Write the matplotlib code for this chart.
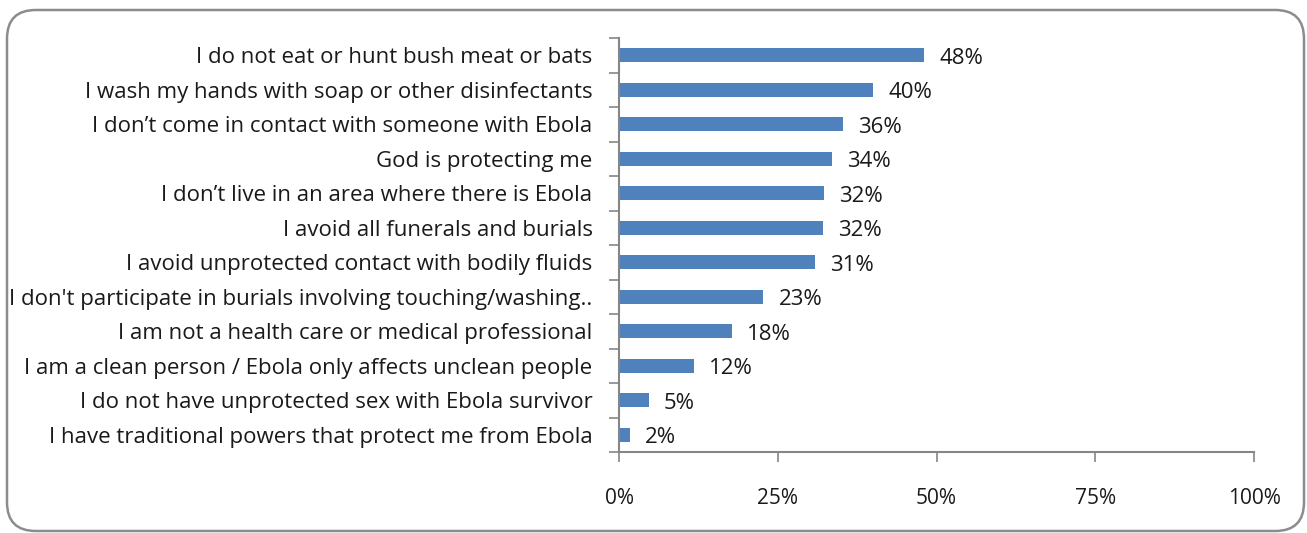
import matplotlib
matplotlib.use("Agg")
import matplotlib.pyplot as plt
from matplotlib.patches import FancyBboxPatch
from matplotlib.ticker import FixedLocator

plt.rcParams['font.family'] = ['Open Sans', 'DejaVu Sans']

categories = [
    "I do not eat or hunt bush meat or bats",
    "I wash my hands with soap or other disinfectants",
    "I don\u2019t come in contact with someone with Ebola",
    "God is protecting me",
    "I don\u2019t live in an area where there is Ebola",
    "I avoid all funerals and burials",
    "I avoid unprotected contact with bodily fluids",
    "I don't participate in burials involving touching/washing..",
    "I am not a health care or medical professional",
    "I am a clean person / Ebola only affects unclean people",
    "I do not have unprotected sex with Ebola survivor",
    "I have traditional powers that protect me from Ebola",
]
values = [48, 40, 35.3, 33.5, 32.3, 32.1, 30.9, 22.7, 17.8, 11.8, 4.7, 1.7]
labels = ["48%", "40%", "36%", "34%", "32%", "32%", "31%", "23%", "18%", "12%", "5%", "2%"]
xticks = [0, 25, 50, 75, 100]
xticklabels = ["0%", "25%", "50%", "75%", "100%"]

W, H = 1307, 533
fig = plt.figure(figsize=(W / 100, H / 100), dpi=100)

border = FancyBboxPatch((7 / W, 2 / H), (1297 / W), (521 / H),
                        boxstyle="round,pad=0,rounding_size=0.022",
                        transform=fig.transFigure, fill=False,
                        edgecolor="#8c8c8c", linewidth=1.8,
                        mutation_aspect=W / H)
fig.patches.append(border)

ax = fig.add_axes([619 / W, 1 - 452 / H, (1254 - 619) / W, (452 - 38) / H])
n = len(categories)
ypos = list(range(n))
ax.barh(ypos, values, height=0.4, color="#4F81BD")
ax.set_ylim(n - 0.5, -0.5)
ax.set_xlim(0, 100)

ax.set_yticks(ypos)
ax.set_yticklabels(categories, fontsize=16, color="#1a1a1a")
ax.tick_params(axis='y', which='major', length=0, pad=19)
ax.yaxis.set_minor_locator(FixedLocator([i - 0.5 for i in range(n + 1)]))
ax.tick_params(axis='y', which='minor', length=7, width=1.2, color="#868686", direction='out')

ax.set_xticks(xticks)
ax.set_xticklabels(xticklabels, fontsize=15, color="#1a1a1a")
ax.tick_params(axis='x', length=7, width=1.2, color="#868686", direction='out', pad=19)

for s in ['top', 'right']:
    ax.spines[s].set_visible(False)
for s in ['left', 'bottom']:
    ax.spines[s].set_color("#868686")
    ax.spines[s].set_linewidth(1.5)

for y, v, lab in zip(ypos, values, labels):
    ax.annotate(lab, (v, y), xytext=(11, -2), textcoords='offset points',
                va='center', ha='left', fontsize=16, color="#1a1a1a")

fig.savefig("out.png", dpi=100)
